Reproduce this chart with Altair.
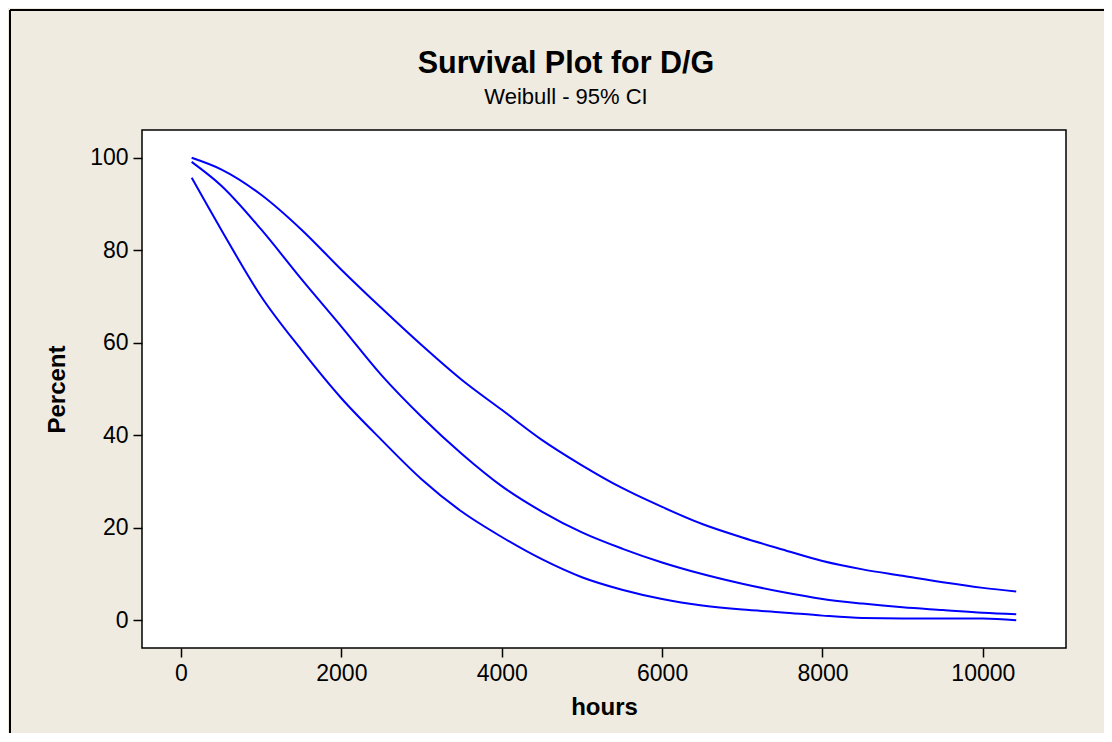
import altair as alt
import pandas as pd

hours = [133, 500, 1000, 1500, 2000, 2500, 3000, 3500, 4000, 4500, 5000,
         5500, 6000, 6500, 7000, 7500, 8000, 8500, 9000, 9500, 10000, 10416]
upper = [100, 97.5, 92.0, 84.5, 75.8, 67.5, 59.5, 52.0, 45.5, 39.0, 33.5,
         28.6, 24.5, 20.8, 17.9, 15.3, 12.8, 11.0, 9.6, 8.2, 7.0, 6.2]
estimate = [99.1, 94.0, 84.5, 73.8, 63.5, 53.0, 44.0, 36.0, 29.0, 23.5, 19.0,
            15.5, 12.5, 10.0, 7.9, 6.1, 4.6, 3.6, 2.8, 2.2, 1.6, 1.3]
lower = [95.7, 84.5, 70.0, 58.5, 48.0, 39.0, 30.5, 23.5, 18.0, 13.2, 9.3,
         6.6, 4.6, 3.2, 2.3, 1.7, 1.0, 0.5, 0.4, 0.4, 0.4, 0.0]

title_text = ["Survival Plot for D/G"]
subtitle_text = ["Weibull - 95% CI"]

rows = []
for name, vals in [("Upper", upper), ("Estimate", estimate), ("Lower", lower)]:
    for h, v in zip(hours, vals):
        rows.append({"series": name, "hours": h, "percent": v})
df = pd.DataFrame(rows)

FONT = "Liberation Sans"
BG = "#EFEBE1"

lines = alt.Chart(df).mark_line(color="#0000FF", strokeWidth=2, clip=True,
                                interpolate="monotone").encode(
    x=alt.X("hours:Q",
            scale=alt.Scale(domain=[-486, 11037], nice=False, zero=False),
            axis=alt.Axis(values=[0, 2000, 4000, 6000, 8000, 10000], format="d",
                          title="hours")),
    y=alt.Y("percent:Q",
            scale=alt.Scale(domain=[-6, 106], nice=False, zero=False),
            axis=alt.Axis(values=[0, 20, 40, 60, 80, 100], format="d", title="Percent")),
    detail="series:N",
)

frame_v = alt.Chart(df).mark_rule(color="black", strokeWidth=1.5, clip=False).encode(
    x=alt.value(-132), y=alt.value(-120), y2=alt.value(700)
)
frame_h = alt.Chart(df).mark_rule(color="black", strokeWidth=1.5, clip=False).encode(
    x=alt.value(-132), x2=alt.value(1000), y=alt.value(-120)
)

title = alt.Chart(pd.DataFrame({"t": title_text})).mark_text(
    font=FONT, fontSize=30.5, fontWeight="bold", color="black",
    align="center", baseline="middle", clip=False
).encode(text="t:N", x=alt.value(424), y=alt.value(-66))

subtitle = alt.Chart(pd.DataFrame({"t": subtitle_text})).mark_text(
    font=FONT, fontSize=22, color="black",
    align="center", baseline="middle", clip=False
).encode(text="t:N", x=alt.value(424), y=alt.value(-33))

chart = alt.layer(frame_v, frame_h, lines, title, subtitle).properties(
    width=924,
    height=518,
    background=BG,
    padding={"left": 134, "top": 122, "right": 38, "bottom": 85},
    autosize=alt.AutoSizeParams(type="none"),
).configure_view(
    fill="white", stroke="black", strokeWidth=1.5
).configure_axis(
    domain=False,
    grid=False,
    ticks=True,
    tickColor="black",
    tickSize=9,
    tickWidth=1.5,
    labelFont=FONT,
    labelFontSize=23,
    labelColor="black",
    labelPadding=5,
    titleFont=FONT,
    titleFontSize=24,
    titleFontWeight="bold",
    titleColor="black",
).configure_axisY(
    titlePadding=20,
).configure_axisX(
    titlePadding=10,
)

chart.save("out.html", embed_options={"renderer": "svg", "actions": False})
